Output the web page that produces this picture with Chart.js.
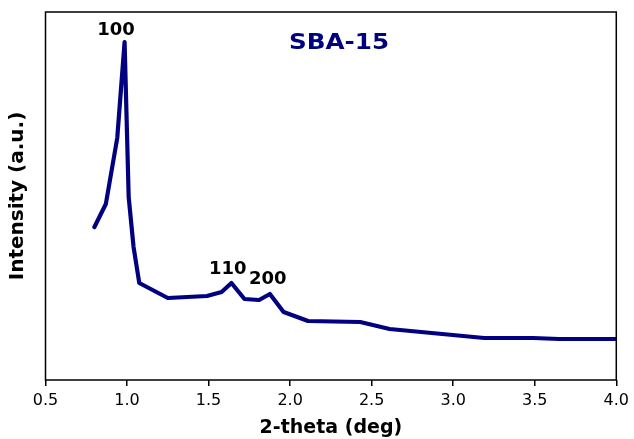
<!DOCTYPE html>
<html>
<head>
<meta charset="utf-8">
<script src="https://cdn.jsdelivr.net/npm/chart.js@4"></script>
<style>
  html, body { margin: 0; padding: 0; background: #fff; }
  #wrap { width: 634px; height: 439px; }
</style>
</head>
<body>
<div id="wrap"><canvas id="myChart" width="634" height="439"></canvas></div>
<script>
// 2-theta (deg) vs intensity (a.u.)
const twoTheta = [0.80, 0.87, 0.94, 0.985, 1.01, 1.04, 1.075, 1.25, 1.49, 1.58, 1.64, 1.72, 1.81, 1.876, 1.96, 2.11, 2.43, 2.61, 3.19, 3.49, 3.65, 4.0];
const intensity = [153, 176, 242, 338, 183, 133, 97, 82, 84, 88, 97, 81, 80, 86, 68, 59, 58, 51, 42, 42, 41, 41];
const xTicks = [0.5, 1.0, 1.5, 2.0, 2.5, 3.0, 3.5, 4.0];

// peak labels [text, x, y] in data units
const peakLabels = [
  ['100', 0.932, 350],
  ['110', 1.618, 111],
  ['200', 1.863, 101]
];

const FONT = '"DejaVu Sans", Verdana, sans-serif';

const frame = {
  id: 'frame',
  afterDraw(chart) {
    const { ctx, chartArea: a } = chart;
    ctx.save();
    ctx.strokeStyle = '#000';
    ctx.lineWidth = 1.5;
    ctx.strokeRect(a.left, a.top, a.right - a.left, a.bottom - a.top);
    ctx.restore();
  }
};

const labels = {
  id: 'labels',
  afterDatasetsDraw(chart) {
    const { ctx, scales } = chart;
    ctx.save();
    ctx.textAlign = 'center';
    ctx.textBaseline = 'middle';
    ctx.font = 'bold 18px ' + FONT;
    ctx.fillStyle = '#000';
    peakLabels.forEach(function(p) {
      ctx.fillText(p[0], scales.x.getPixelForValue(p[1]), scales.y.getPixelForValue(p[2]));
    });
    // sample name, drawn a little wider like the original
    const sx = scales.x.getPixelForValue(2.30), sy = scales.y.getPixelForValue(337);
    ctx.translate(sx, sy);
    ctx.scale(1.12, 1);
    ctx.font = 'bold 22px ' + FONT;
    ctx.fillStyle = '#000080';
    ctx.fillText('SBA-15', 0, 0);
    ctx.restore();
  }
};

document.addEventListener('DOMContentLoaded', function() {
  const ctx = document.getElementById('myChart').getContext('2d');
  new Chart(ctx, {
    type: 'line',
    data: {
      datasets: [{
        data: twoTheta.map(function(x, i) { return { x: x, y: intensity[i] }; }),
        borderColor: '#000080',
        borderWidth: 4.2,
        pointRadius: 0,
        tension: 0,
        fill: false,
        borderJoinStyle: 'round',
        borderCapStyle: 'round'
      }]
    },
    options: {
      responsive: false,
      animation: false,
      layout: { padding: { top: 12, right: 17, left: 0, bottom: 0 } },
      plugins: { legend: { display: false }, tooltip: { enabled: false } },
      scales: {
        x: {
          type: 'linear',
          min: 0.5,
          max: 4.0,
          afterBuildTicks: function(s) { s.ticks = xTicks.map(function(v) { return { value: v }; }); },
          afterFit: function(s) { s.height = 59; },
          grid: { drawOnChartArea: false, drawTicks: true, tickLength: 6, color: '#000', lineWidth: 1.5 },
          border: { display: false },
          ticks: {
            color: '#000',
            padding: 5,
            font: { family: FONT, size: 16 },
            callback: function(v) { return v.toFixed(1); }
          },
          title: {
            display: true,
            text: '2-theta (deg)',
            color: '#000',
            padding: { top: 0, bottom: 0 },
            font: { family: FONT, size: 19, weight: 'bold' }
          }
        },
        y: {
          min: 0,
          max: 368,
          afterFit: function(s) { s.width = 45.5; },
          grid: { display: false },
          border: { display: false },
          ticks: { display: false },
          title: {
            display: true,
            text: 'Intensity (a.u.)',
            color: '#000',
            padding: { top: 6, bottom: 0 },
            font: { family: FONT, size: 20, weight: 'bold' }
          }
        }
      }
    },
    plugins: [frame, labels]
  });
});
</script>
</body>
</html>
